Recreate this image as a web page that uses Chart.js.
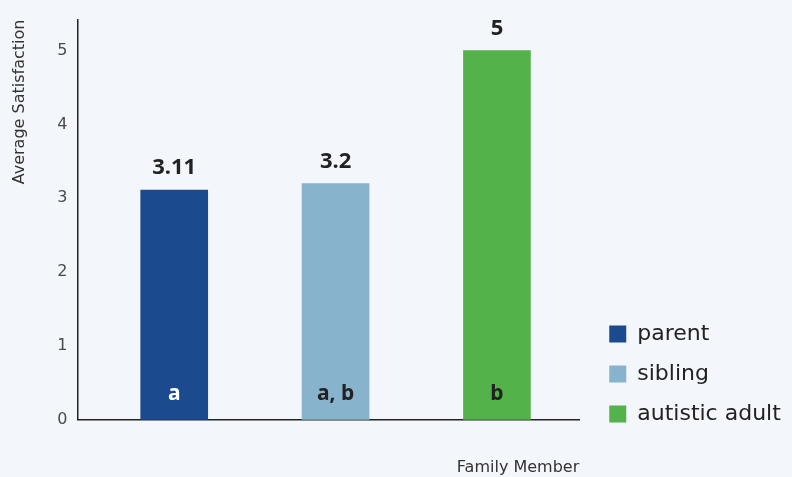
<!DOCTYPE html>
<html>
<head>
<meta charset="utf-8">
<script src="https://cdn.jsdelivr.net/npm/chart.js@4"></script>
<style>
  html, body { margin: 0; padding: 0; background: #f3f6fa; }
  #wrap { width: 792px; height: 477px; position: relative; }
</style>
</head>
<body>
<div id="wrap"><canvas id="chart"></canvas></div>
<script>
// Chart data
const categories = ['parent', 'sibling', 'autistic adult'];
const values = [3.11, 3.2, 5];
const valueLabels = ['3.11', '3.2', '5'];
const groupLetters = ['a', 'a, b', 'b'];
const yTicks = [0, 1, 2, 3, 4, 5];

const barColors = ['#1c4a8e', '#88b3cd', '#53b24a'];
const letterColors = ['#ffffff', '#222222', '#222222'];
const FONT = "'DejaVu Sans', sans-serif";
const LABEL_FONT = "'Noto Sans', sans-serif";

// Text drawn on top of / inside the bars
const barTextPlugin = {
  id: 'barText',
  afterDatasetsDraw(chart) {
    const ctx = chart.ctx;
    ctx.save();
    ctx.textAlign = 'center';
    ctx.textBaseline = 'middle';
    chart.data.datasets.forEach((ds, i) => {
      const bar = chart.getDatasetMeta(i).data[0];
      if (!bar) return;
      ctx.font = 'bold 22px ' + LABEL_FONT;
      ctx.fillStyle = '#222222';
      ctx.fillText(valueLabels[i], bar.x, bar.y - 22);
      ctx.font = 'bold 21px ' + LABEL_FONT;
      ctx.fillStyle = letterColors[i];
      ctx.fillText(groupLetters[i], bar.x, bar.base - 26);
    });
    ctx.restore();
  }
};

// Nudge the legend a bit right and lower it so it sits beside the bars' base
const legendShift = {
  id: 'legendShift',
  afterLayout(chart) {
    const lg = chart.legend;
    lg.left += 12;
    lg.right += 12;
    lg.bottom -= 34;
    lg.height = lg.bottom - lg.top;
  }
};

const datasets = categories.map((name, i) => ({
  label: name,
  data: [{ x: i + 1, y: values[i] }],
  backgroundColor: barColors[i],
  borderWidth: 0,
  barThickness: 67,
  grouped: false
}));

new Chart(document.getElementById('chart'), {
  type: 'bar',
  data: { datasets: datasets },
  plugins: [barTextPlugin, legendShift],
  options: {
    responsive: true,
    maintainAspectRatio: false,
    animation: false,
    layout: { padding: { top: 11, right: 23, bottom: 0, left: 10 } },
    plugins: {
      tooltip: { enabled: false },
      legend: {
        position: 'right',
        align: 'end',
        labels: {
          color: '#222222',
          font: { family: FONT, size: 22 },
          boxWidth: 17,
          boxHeight: 17,
          padding: 18
        }
      }
    },
    scales: {
      x: {
        type: 'linear',
        offset: false,
        min: 0.4,
        max: 3.51,
        grid: { display: false, drawTicks: false },
        border: { display: true, color: '#222222', width: 1.5 },
        ticks: { display: false },
        title: {
          display: true,
          text: 'Family Member',
          align: 'end',
          color: '#333333',
          font: { family: FONT, size: 16 },
          padding: { top: 38, bottom: 0 }
        }
      },
      y: {
        min: 0,
        max: 5.42,
        afterBuildTicks(scale) {
          scale.ticks = yTicks.map(v => ({ value: v }));
        },
        grid: { display: false, drawTicks: false },
        border: { display: true, color: '#222222', width: 1.5 },
        ticks: {
          color: '#4a4a4a',
          font: { family: FONT, size: 16 },
          padding: 10
        },
        title: {
          display: true,
          text: 'Average Satisfaction',
          align: 'end',
          color: '#333333',
          font: { family: FONT, size: 16 },
          padding: { top: 0, bottom: 18 }
        }
      }
    }
  }
});
</script>
</body>
</html>
